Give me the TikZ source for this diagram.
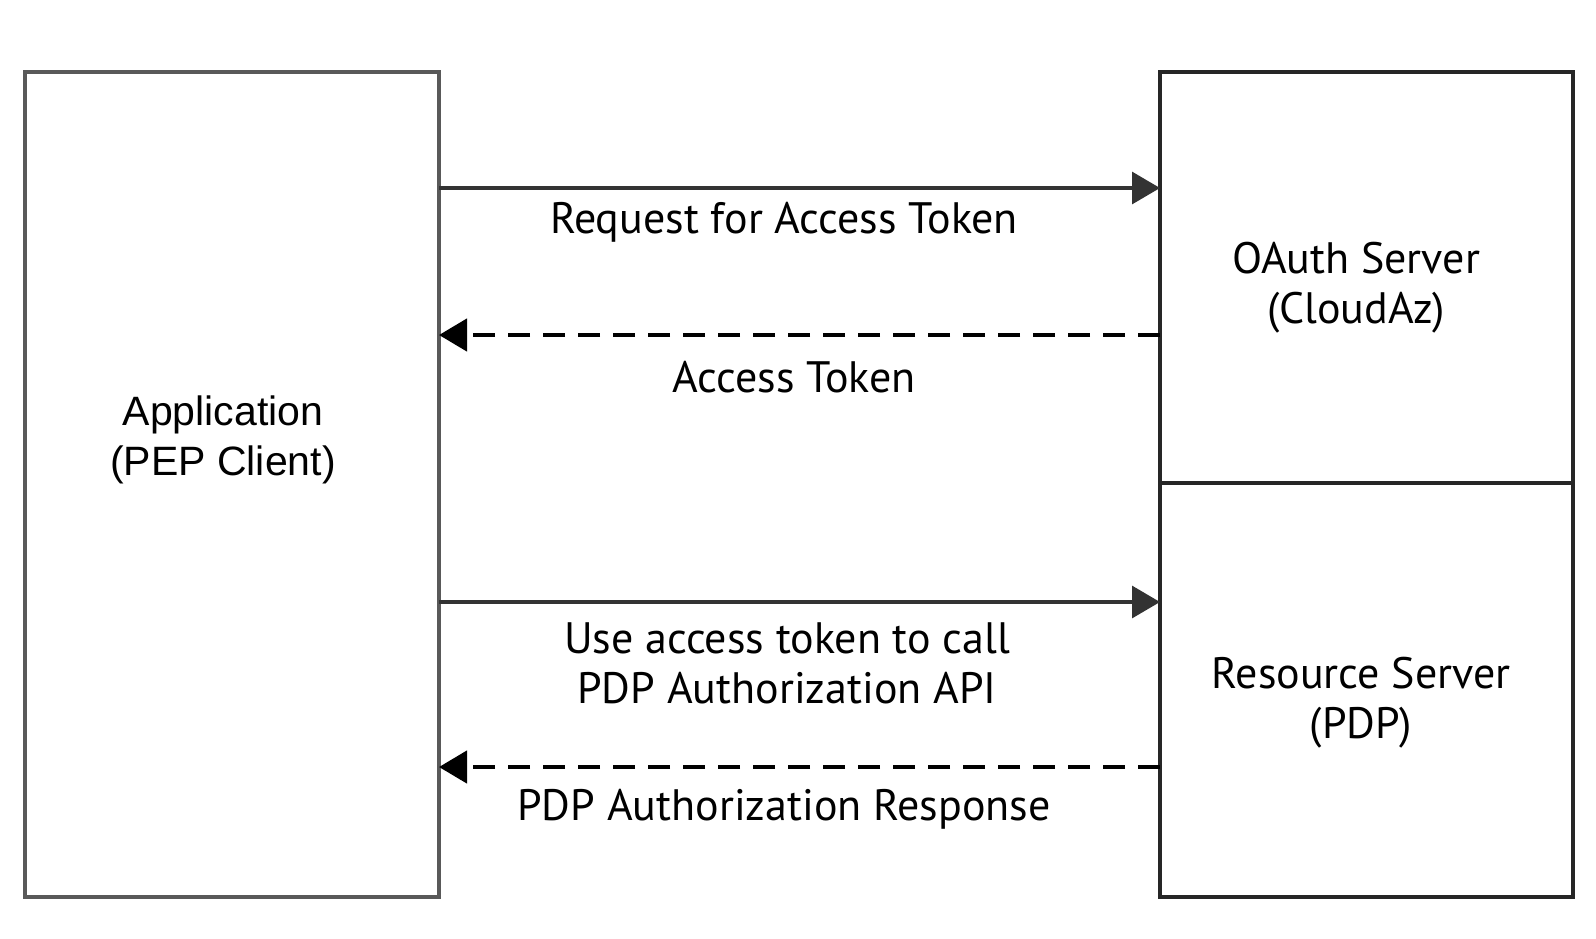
\documentclass[tikz,border=0pt]{standalone}
\usepackage{fontspec}
\setmainfont{PT Sans}
\newfontfamily\appfont{Liberation Sans}
\usetikzlibrary{arrows.meta}
\begin{document}
\begin{tikzpicture}[x=0.5pt, y=-0.5pt,
    box/.style={draw=black!65, line width=1.6pt, inner sep=0pt, outer sep=0pt},
    txt/.style={align=center, font=\fontsize{22}{25}\selectfont},
    msg/.style={black!80, line width=1.6pt, -{Triangle[length=14pt, width=16pt]}},
    reply/.style={black, line width=2.3pt, dash pattern=on 11pt off 6.5pt,
      -{Triangle[length=14pt, width=16pt]}}]
  \useasboundingbox (0, 0) rectangle (1596, 938);
  % boxes
  \node [box, minimum width=207pt, minimum height=412.5pt] (app) at (232, 484.5) {};
  \node [box, draw=black!85, minimum width=206.5pt, minimum height=205.5pt] (oauth) at (1366.5, 277.5) {};
  \node [box, draw=black!85, minimum width=206.5pt, minimum height=207pt] (res) at (1366.5, 690) {};
  \node [txt, font=\appfont\fontsize{20.5}{25}\selectfont] (applbl) at (223, 440) {Application\\(PEP Client)};
  \node [txt] (oauthlbl) at (1356, 288) {OAuth Server\\(CloudAz)};
  \node [txt] (reslbl) at (1361, 703) {Resource Server\\(PDP)};
  % rows of the messages
  \coordinate (req) at (0, 188);
  \coordinate (tok) at (0, 335);
  \coordinate (use) at (0, 602);
  \coordinate (resp) at (0, 767);
  \draw [msg] (app.east |- req) -- (oauth.west |- req);
  \draw [reply] (oauth.west |- tok) -- (app.east |- tok);
  \draw [msg] (app.east |- use) -- (res.west |- use);
  \draw [reply] (res.west |- resp) -- (app.east |- resp);
  \node [txt] (reqlbl) at (784, 222) {Request for Access Token};
  \node [txt] (toklbl) at (794, 377) {Access Token};
  \node [txt] (uselbl) at (787, 663) {Use access token to call\\PDP Authorization API};
  \node [txt] (resplbl) at (784, 809) {PDP Authorization Response};
\end{tikzpicture}
\end{document}
